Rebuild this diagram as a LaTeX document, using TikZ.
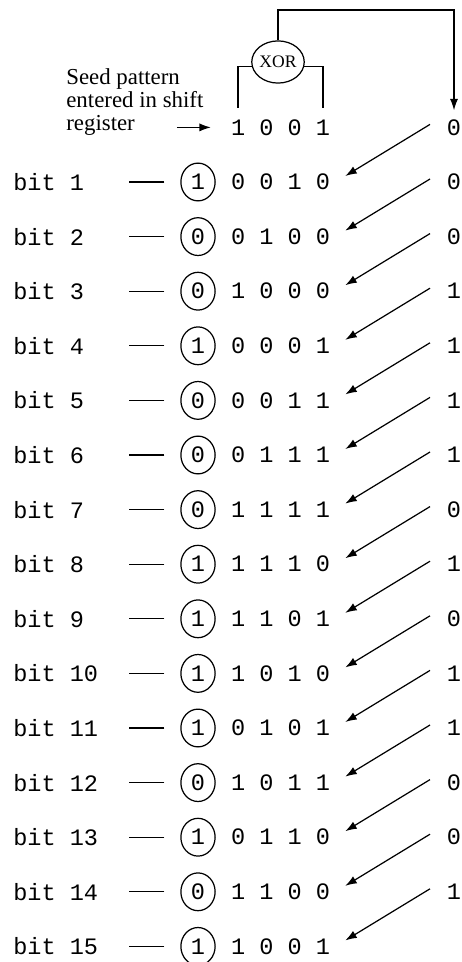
\documentclass[tikz,border=0pt]{standalone}
\usepackage{fontspec}
\setmainfont{Liberation Serif}
\setmonofont{Liberation Mono}
\usetikzlibrary{arrows.meta,shapes.geometric,positioning}

\begin{document}
\begin{tikzpicture}[x=0.02cm,y=-0.02cm,
  every node/.style={inner sep=0pt},
  mono/.style={font=\fontsize{13.4}{15}\selectfont\ttfamily},
  bitlabel/.style={mono,anchor=west},
  regbits/.style={mono},
  outbit/.style={mono,ellipse,draw,line width=0.7pt,minimum width=19.5pt,minimum height=21.5pt},
  xorgate/.style={ellipse,draw,line width=0.7pt,minimum width=26.5pt,minimum height=24pt,font=\fontsize{10}{11}\selectfont},
  wire/.style={line width=0.7pt},
  shiftarrow/.style={wire,-{Latex[length=6.5pt,width=4.6pt]}}
]
\useasboundingbox (0,0) rectangle (461,962);

% seed pattern and the xor taps
\node[regbits] (reg0) at (280.5,127.4) {1 0 0 1};
\node[font=\fontsize{13}{13.3}\selectfont, align=left, anchor=north west] (seed) at (66,68) {Seed pattern\\entered in shift\\register};
\draw[shiftarrow] ([xshift=-30.6pt]reg0.west) -- ([xshift=-11.3pt]reg0.west);

\node[xorgate] (xor) at (278,62) {XOR};
\coordinate (tapA) at (238,108);
\coordinate (tapB) at (323,108);
\coordinate (loop) at (278,10);
\draw[wire] (xor.190) -| (tapA);
\draw[wire] (xor.350) -| (tapB);

% shift steps
\foreach \n/\o/\bits in {1/1/0 0 1 0, 2/0/0 1 0 0, 3/0/1 0 0 0, 4/1/0 0 0 1,
    5/0/0 0 1 1, 6/0/0 1 1 1, 7/0/1 1 1 1, 8/1/1 1 1 0, 9/1/1 1 0 1,
    10/1/1 0 1 0, 11/1/0 1 0 1, 12/0/1 0 1 1, 13/1/0 1 1 0, 14/0/1 1 0 0,
    15/1/1 0 0 1}{
  \pgfmathsetmacro\yy{182+54.6*(\n-1)}
  \node[bitlabel] (lab\n) at (13,\yy) {bit \n};
  \node[outbit] (out\n) at (198,\yy) {\o};
  \node[regbits] (reg\n) at (280.5,\yy) {\bits};
  \draw[wire] ([xshift=-9pt]out\n.west) -- ++(-35,0);
}

% feedback bits
\foreach \k/\fb in {0/0,1/0,2/0,3/1,4/1,5/1,6/1,7/0,8/1,9/0,10/1,11/1,12/0,13/0,14/1}{
  \pgfmathsetmacro\yy{182+54.6*(\k-1)}
  \node[regbits] (fb\k) at (454,\yy) {\fb};
}
\draw[shiftarrow] (xor.north) -- (loop) -| ([yshift=5pt]fb0.north);
\foreach \k [count=\nx] in {0,...,14}
  \draw[shiftarrow] ([shift={(-24,-3)}]fb\k.center) -- ([shift={(15,-6)}]reg\nx.east);

\end{tikzpicture}
\end{document}
